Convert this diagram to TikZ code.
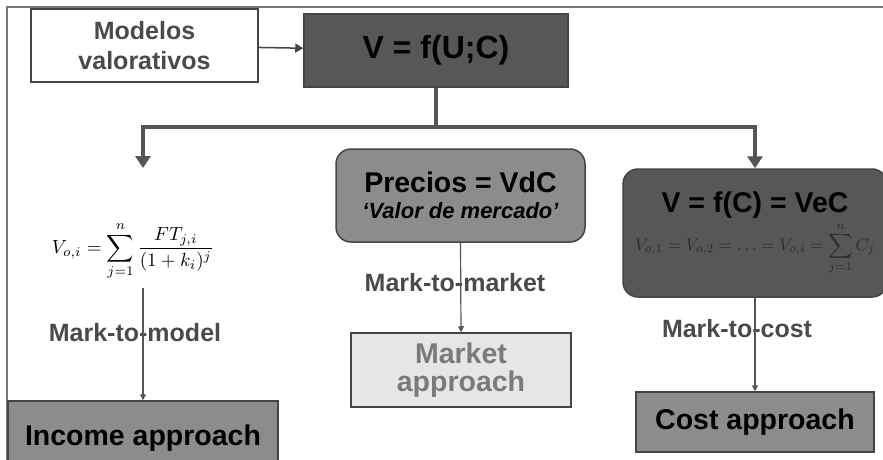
\documentclass[tikz,border=0pt]{standalone}
\usepackage[no-math]{fontspec}
\setmainfont{Liberation Sans}
\usetikzlibrary{arrows.meta}
\definecolor{darkbox}{HTML}{575757}
\definecolor{midbox}{HTML}{8C8C8C}
\definecolor{lightbox}{HTML}{E6E6E6}
\definecolor{edgegray}{HTML}{444444}
\definecolor{labelgray}{HTML}{4A4A4A}
\definecolor{treegray}{HTML}{555555}
\definecolor{mktgray}{HTML}{7A7A7A}
\definecolor{framegray}{HTML}{777777}
\definecolor{formgray}{HTML}{2C2C2C}

\begin{document}
\begin{tikzpicture}[x=1pt, y=-1pt, every node/.style={font=\bfseries}]
\tikzset{box/.style={draw=edgegray, line width=1.5pt, inner sep=0pt, align=center, anchor=center},
  tree/.style={draw=treegray, line width=4pt},
  treearrow/.style={tree, -{Triangle[width=15pt,length=12pt]}},
  markline/.style={draw=treegray, line width=1.2pt, -{Triangle[width=6pt,length=6pt]}},
  marklabel/.style={text=labelgray, font=\bfseries\fontsize{25}{30}\selectfont}}
\useasboundingbox (0,0) rectangle (883,460);
% frame
\draw[framegray, line width=2pt] (7,460) -- (7,7) -- (883,7);
% top row
\node[box, fill=white, text=labelgray, minimum width=227pt, minimum height=73pt, font=\bfseries\fontsize{25}{30}\selectfont] (modelos) at (144.5,45.5) {Modelos\\valorativos};
\node[box, fill=darkbox, minimum width=264pt, minimum height=73pt, font=\bfseries\fontsize{32}{38}\selectfont] (v) at (436,50.5) {V = f(U;C)};
% middle row
\node[text=black, inner sep=0pt] (incformula) at (133,251) {\resizebox{162pt}{!}{$\displaystyle V_{o,i} = \sum_{j=1}^{n}\frac{FT_{j,i}}{(1+k_i)^{j}}$}};
\node[box, fill=midbox, rounded corners=15pt, minimum width=249pt, minimum height=93pt, font=\bfseries\fontsize{22}{26}\selectfont] (precios) at (460.5,195.5) {{\fontsize{28.5}{26}\selectfont Precios = VdC}\\{\itshape ‘Valor de mercado’}};
\node[box, fill=darkbox, rounded corners=15pt, minimum width=264pt, minimum height=128pt, font=\bfseries\fontsize{28.5}{34}\selectfont] (vec) at (755,233) {V = f(C) = VeC\\[4pt]{\color{formgray}\fontsize{10}{12}\selectfont\resizebox{240pt}{!}{$\displaystyle V_{o,1} = V_{o,2} = \dots = V_{o,i} = \sum_{j=1}^{n} C_j$}}};
% labels
\node[marklabel] (mtmodel) at (135,333) {Mark-to-model};
\node[marklabel] (mtmarket) at (455,283) {Mark-to-market};
\node[marklabel] (mtcost) at (737,329) {Mark-to-cost};
% bottom row
\node[box, fill=midbox, minimum width=270pt, minimum height=74pt, font=\bfseries\fontsize{28.5}{30}\selectfont] (income) at (143,438) {Income approach};
\node[box, fill=lightbox, text=mktgray, minimum width=220pt, minimum height=74pt, font=\bfseries\fontsize{28.5}{28}\selectfont] (market) at (461,370) {Market\\approach};
\node[box, fill=midbox, minimum width=238pt, minimum height=60pt, font=\bfseries\fontsize{28.5}{30}\selectfont] (cost) at (755,422) {Cost approach};
% tree
\coordinate (split) at (436,127);
\coordinate (lefttip) at (143,168);
\draw[edgegray, line width=1.5pt, -{Triangle[width=9pt,length=8pt]}] (modelos) -- (v);
\draw[tree] (v.south) -- (split);
\draw[treearrow] (split) -| (lefttip);
\draw[treearrow] (split) -| (vec.north);
% mark lines
\draw[markline] (incformula.south -| income.north) ++(0,8) -- (income.north);
\draw[markline] (precios.south) -- (market.north);
\draw[markline] (vec.south) -- (cost.north);
\end{tikzpicture}
\end{document}
